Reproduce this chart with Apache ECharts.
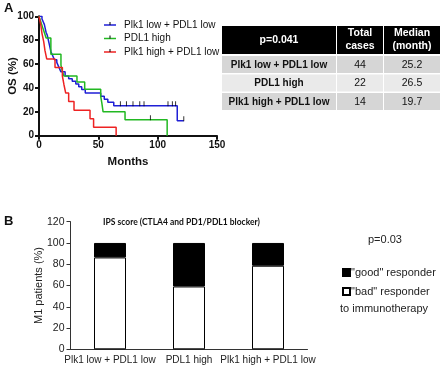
<!DOCTYPE html>
<html>
<head>
<meta charset="utf-8">
<script src="https://cdn.jsdelivr.net/npm/echarts@6/dist/echarts.min.js"></script>
<style>
  html, body { margin: 0; padding: 0; background: #fff; }
  #chart { width: 440px; height: 367px; }
</style>
</head>
<body>
<div id="chart"></div>
<script>
  // Panel A: Kaplan-Meier curves, [months, OS %]
  const kmNames = ['Plk1 low + PDL1 low', 'PDL1 high', 'Plk1 high + PDL1 low'];
  const kmColors = ['#1f1fd6', '#22b822', '#ee2222'];
  const blueSteps = [[0,100],[2.5,97.7],[3.5,95.5],[4.5,93.2],[5,90.9],[5.5,88.6],[6,86.4],[7,84.1],[7.5,81.8],[8,79.5],
    [8.5,77.3],[9,75],[9.5,72.7],[10,70.5],[11,68.2],[12,65.9],[13,63.6],[15,61.4],[16,59.1],[17,56.8],[18.5,53.5],
    [22,50],[25,47.7],[28,45.5],[31,43.2],[33.5,40.9],[36,38.6],[39,35.8],[52,33],[55,30.5],[58,28],[63,25],
    [116.5,12.5],[122,12.5]];
  const greenSteps = [[0,100],[1.5,95.5],[3,90.9],[4.5,86.4],[6,81.8],[10,68.2],[18.5,59.1],[19.5,54.5],[21,50],
    [32,45],[38.5,39],[52,33],[53,27],[54,20],[72.5,13.3],[108,0]];
  const redSteps = [[0,100],[1.5,92.9],[2.5,85.7],[4,78.6],[5,71.4],[6.5,64.3],[13.5,57.1],[19.7,50],[21,42.9],
    [22.5,35.7],[25,28.6],[29.5,21.4],[43,14.3],[46,7.1],[65,0]];
  const blueCensored = [[68.6,25],[73.7,25],[79.2,25],[84.9,25],[88.5,25],[108.7,25],[112.4,25],[115.1,25],[122,12.5]];
  const greenCensored = [[93.9,13.3]];

  // table next to panel A
  const tableHeader = ['p=0.041', 'Total\ncases', 'Median\n(month)'];
  const tableGroups = ['Plk1 low + PDL1 low', 'PDL1 high', 'Plk1 high + PDL1 low'];
  const tableCases = [44, 22, 14];
  const tableMedian = ['25.2', '26.5', '19.7'];

  // Panel B: IPS score responders
  const ipsCategories = ['Plk1 low + PDL1 low', 'PDL1 high', 'Plk1 high + PDL1 low'];
  const badResponders = [86.4, 59.1, 78.6];
  const goodResponders = [13.6, 40.9, 21.4];
  const yTicksB = [0, 20, 40, 60, 80, 100, 120];

  const font = 'Arial, "Liberation Sans", sans-serif';
  const myChart = echarts.init(document.getElementById('chart'));

  // table as graphic elements
  const colX = [222, 337, 384];
  const colW = [114, 46, 56];
  const table = [];
  tableHeader.forEach((t, i) => {
    table.push({ type: 'rect', shape: { x: colX[i], y: 26, width: colW[i], height: 28 }, style: { fill: '#000' } });
    table.push({ type: 'text', x: colX[i] + colW[i] / 2, y: 40,
      style: { text: t, fill: '#fff', font: 'bold 10.5px ' + font, align: 'center', verticalAlign: 'middle', lineHeight: 13 } });
  });
  tableGroups.forEach((g, r) => {
    const y = 56 + r * 18.5;
    const fill = r % 2 === 0 ? '#d6d6d6' : '#eaeaea';
    const cells = [g, String(tableCases[r]), tableMedian[r]];
    cells.forEach((c, i) => {
      table.push({ type: 'rect', shape: { x: colX[i], y: y, width: colW[i], height: 17 }, style: { fill: fill } });
      table.push({ type: 'text', x: colX[i] + colW[i] / 2, y: y + 9,
        style: { text: c, fill: '#111', font: (i === 0 ? 'bold 10px ' : '10.5px ') + font, align: 'center', verticalAlign: 'middle' } });
    });
  });

  // legend for panel A (line with a censor tick)
  const legendA = [];
  kmNames.forEach((n, i) => {
    const y = 25 + i * 13.5;
    legendA.push({ type: 'line', shape: { x1: 104, y1: y, x2: 116, y2: y }, style: { stroke: kmColors[i], lineWidth: 1.5 } });
    legendA.push({ type: 'line', shape: { x1: 110, y1: y - 3, x2: 110, y2: y }, style: { stroke: '#000', lineWidth: 1 } });
    legendA.push({ type: 'text', x: 124, y: y, style: { text: n, fill: '#111', font: '10px ' + font, verticalAlign: 'middle' } });
  });

  const censorSeries = (data) => ({
    type: 'scatter', xAxisIndex: 0, yAxisIndex: 0, data: data, symbol: 'rect', symbolSize: [1, 5],
    symbolOffset: [0, -2], itemStyle: { color: '#000' }, silent: true, z: 5
  });
  const kmSeries = (name, data, color) => ({
    name: name, type: 'line', step: 'end', xAxisIndex: 0, yAxisIndex: 0, data: data, showSymbol: false,
    lineStyle: { color: color, width: 1.5 }, itemStyle: { color: color }, silent: true
  });

  const boldAxis = { fontSize: 10, fontWeight: 'bold', color: '#111', fontFamily: font };
  const option = {
    animation: false,
    textStyle: { fontFamily: font },
    grid: [
      { left: 39, top: 16.3, width: 178, height: 119.4 },
      { left: 70.5, top: 221.7, width: 237, height: 127.6 }
    ],
    xAxis: [
      { type: 'value', gridIndex: 0, min: 0, max: 150, interval: 50,
        name: 'Months', nameLocation: 'middle', nameGap: 20,
        nameTextStyle: { fontSize: 11.5, fontWeight: 'bold', color: '#111' },
        axisLine: { lineStyle: { color: '#111', width: 2 } },
        axisTick: { length: 4, lineStyle: { color: '#111', width: 2 } },
        axisLabel: Object.assign({ margin: 5 }, boldAxis), splitLine: { show: false } },
      { type: 'category', gridIndex: 1, data: ipsCategories,
        axisLine: { lineStyle: { color: '#333', width: 1 } },
        axisTick: { length: 4, lineStyle: { color: '#333' } },
        axisLabel: { fontSize: 10, color: '#222', margin: 6, interval: 0 } }
    ],
    yAxis: [
      { type: 'value', gridIndex: 0, min: 0, max: 100, interval: 20,
        name: 'OS (%)', nameLocation: 'middle', nameGap: 20, nameRotate: 90, nameMoveOverlap: false,
        nameTextStyle: { fontSize: 11.5, fontWeight: 'bold', color: '#111' },
        axisLine: { show: true, lineStyle: { color: '#111', width: 2 } },
        axisTick: { show: true, length: 4, lineStyle: { color: '#111', width: 2 } },
        axisLabel: Object.assign({ margin: 5 }, boldAxis), splitLine: { show: false } },
      { type: 'value', gridIndex: 1, min: yTicksB[0], max: yTicksB[yTicksB.length - 1], interval: 20,
        name: 'M1 patients (%)', nameLocation: 'middle', nameGap: 26, nameRotate: 90, nameMoveOverlap: false,
        nameTextStyle: { fontSize: 11, color: '#222' },
        axisLine: { show: true, lineStyle: { color: '#333' } },
        axisTick: { show: true, length: 4, lineStyle: { color: '#333' } },
        axisLabel: { fontSize: 10.5, color: '#222', margin: 6 }, splitLine: { show: false } }
    ],
    legend: {
      orient: 'vertical', left: 337, top: 262, itemWidth: 7, itemHeight: 7, itemGap: 8, icon: 'rect',
      data: ['"good" responder', '"bad" responder'],
      textStyle: { fontSize: 11, color: '#222', padding: [0, 0, 0, -4] }
    },
    graphic: [
      { type: 'text', left: 4, top: 2, style: { text: 'A', font: 'bold 13px ' + font, fill: '#111' } },
      { type: 'text', left: 4, top: 215, style: { text: 'B', font: 'bold 13px ' + font, fill: '#111' } },
      { type: 'text', left: 103, top: 218, style: { text: 'IPS score (CTLA4 and PD1/PDL1 blocker)', font: 'bold 8.5px Lato, ' + font, fill: '#111' } },
      { type: 'text', left: 368, top: 234, style: { text: 'p=0.03', font: '11px ' + font, fill: '#222' } },
      { type: 'text', left: 337, top: 303, style: { text: ' to immunotherapy', font: '11px ' + font, fill: '#222' } }
    ].concat(table, legendA),
    series: [
      kmSeries(kmNames[0], blueSteps, kmColors[0]),
      kmSeries(kmNames[1], greenSteps, kmColors[1]),
      kmSeries(kmNames[2], redSteps, kmColors[2]),
      censorSeries(blueCensored),
      censorSeries(greenCensored),
      { name: '"bad" responder', type: 'bar', stack: 'ips', xAxisIndex: 1, yAxisIndex: 1, data: badResponders,
        barWidth: 32, itemStyle: { color: '#fff', borderColor: '#000', borderWidth: 1 } },
      { name: '"good" responder', type: 'bar', stack: 'ips', xAxisIndex: 1, yAxisIndex: 1, data: goodResponders,
        barWidth: 32, itemStyle: { color: '#000', borderColor: '#000', borderWidth: 1 } }
    ]
  };
  myChart.setOption(option);
</script>
</body>
</html>
